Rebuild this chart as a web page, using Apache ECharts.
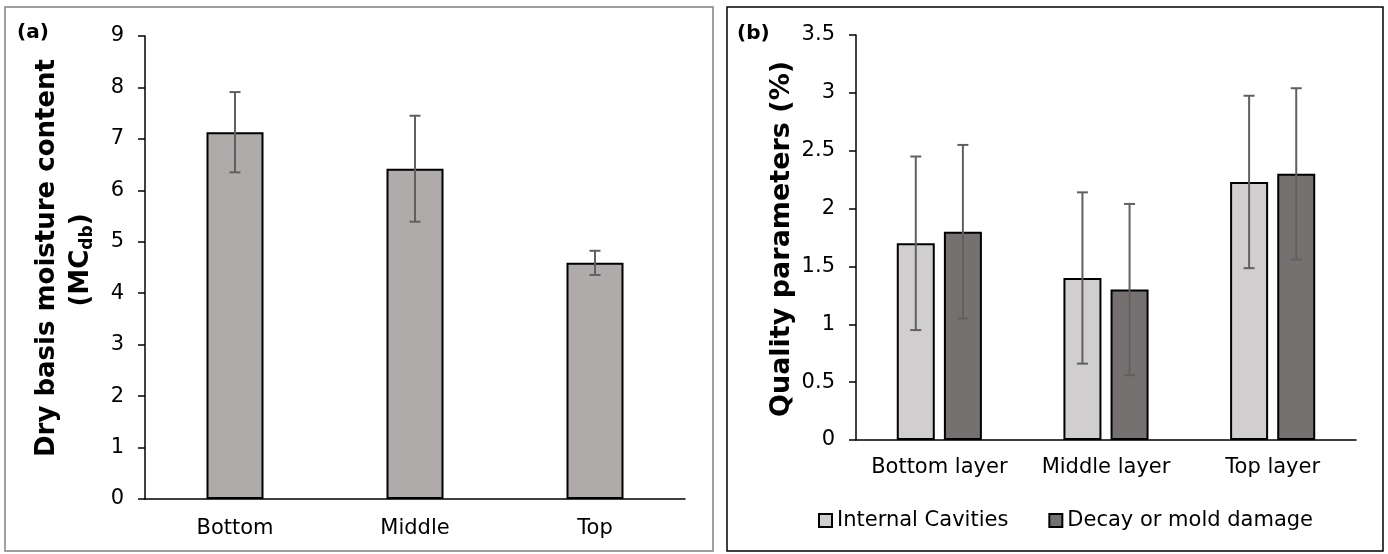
<!DOCTYPE html>
<html>
<head>
<meta charset="utf-8">
<script src="https://cdn.jsdelivr.net/npm/echarts@6/dist/echarts.min.js"></script>
<style>
  html, body { margin: 0; padding: 0; background: #ffffff; }
  #chart { width: 1388px; height: 554px; }
</style>
</head>
<body>
<div id="chart"></div>
<script>
// ---- Panel (a) data ----
const catsA = ['Bottom', 'Middle', 'Top'];
const moisture = [7.13, 6.42, 4.59];
const moistureErr = [0.78, 1.03, 0.235];
const ticksA = { min: 0, max: 9, interval: 1 };

// ---- Panel (b) data ----
const catsB = ['Bottom layer', 'Middle layer', 'Top layer'];
const cavities = [1.70, 1.40, 2.23];
const cavitiesErr = [0.75, 0.74, 0.745];
const decay = [1.80, 1.30, 2.30];
const decayErr = [0.75, 0.74, 0.74];
const ticksB = { min: 0, max: 3.5, interval: 0.5 };
const seriesNamesB = ['Internal Cavities', 'Decay or mold damage'];

const FONT = 'DejaVu Sans';
const errColor = '#606060';

function errData(vals, errs) {
  return vals.map((v, i) => [i, v - errs[i], v + errs[i]]);
}

function errRenderer(offset) {
  return function (params, api) {
    const i = api.value(0);
    const lo = api.coord([i, api.value(1)]);
    const hi = api.coord([i, api.value(2)]);
    const x = lo[0] + offset;
    const cap = 5.5;
    const st = { stroke: errColor, lineWidth: 2 };
    return {
      type: 'group',
      children: [
        { type: 'line', shape: { x1: x, y1: lo[1], x2: x, y2: hi[1] }, style: st },
        { type: 'line', shape: { x1: x - cap, y1: lo[1], x2: x + cap, y2: lo[1] }, style: st },
        { type: 'line', shape: { x1: x - cap, y1: hi[1], x2: x + cap, y2: hi[1] }, style: st }
      ]
    };
  };
}

const axisLine = { show: true, lineStyle: { color: '#000', width: 1.5 } };
const labelStyle = { color: '#000', fontFamily: FONT, fontSize: 21 };

const barWB = 38;
const gapB = 0.24;
const offB = barWB * (1 + gapB) / 2;

const option = {
  animation: false,
  backgroundColor: '#ffffff',
  grid: [
    { left: 145, top: 36, width: 540, height: 463, containLabel: false },
    { left: 856, top: 35, width: 500, height: 405, containLabel: false }
  ],
  xAxis: [
    {
      type: 'category', gridIndex: 0, data: catsA,
      axisLine: axisLine, axisTick: { show: false },
      axisLabel: Object.assign({ margin: 19, interval: 0 }, labelStyle)
    },
    {
      type: 'category', gridIndex: 1, data: catsB,
      axisLine: axisLine, axisTick: { show: false },
      axisLabel: Object.assign({ margin: 17, interval: 0 }, labelStyle)
    }
  ],
  yAxis: [
    {
      type: 'value', gridIndex: 0, min: ticksA.min, max: ticksA.max, interval: ticksA.interval,
      axisLine: axisLine, axisTick: { show: true, length: 7, lineStyle: { color: '#000', width: 1.5 } },
      splitLine: { show: false },
      axisLabel: Object.assign({ margin: 21 }, labelStyle)
    },
    {
      type: 'value', gridIndex: 1, min: ticksB.min, max: ticksB.max, interval: ticksB.interval,
      axisLine: axisLine, axisTick: { show: true, length: 7, lineStyle: { color: '#000', width: 1.5 } },
      splitLine: { show: false },
      axisLabel: Object.assign({ margin: 21 }, labelStyle)
    }
  ],
  legend: {
    data: seriesNamesB,
    left: 813, top: 505,
    icon: 'rect', itemWidth: 13, itemHeight: 13, itemGap: 40,
    textStyle: { color: '#000', fontFamily: FONT, fontSize: 21 }
  },
  graphic: [
    { type: 'rect', shape: { x: 5, y: 7, width: 708, height: 544 }, style: { fill: 'none', stroke: '#808080', lineWidth: 1.5 }, silent: true },
    { type: 'rect', shape: { x: 727, y: 7, width: 656, height: 544 }, style: { fill: 'none', stroke: '#000', lineWidth: 1.5 }, silent: true },
    { type: 'text', x: 17, y: 33, style: { text: '(a)', font: 'bold 20px ' + FONT, fill: '#000', align: 'left', verticalAlign: 'middle' } },
    { type: 'text', x: 737, y: 34, style: { text: '(b)', font: 'bold 20px ' + FONT, fill: '#000', align: 'left', verticalAlign: 'middle' } },
    { type: 'text', x: 47.5, y: 258, rotation: Math.PI / 2,
      style: { text: 'Dry basis moisture content', font: 'bold 26px ' + FONT, fill: '#000', align: 'center', verticalAlign: 'middle' } },
    { type: 'text', x: 81, y: 260, rotation: Math.PI / 2,
      style: {
        text: '{b|(MC}{s|db}{b|)}', align: 'center', verticalAlign: 'middle',
        rich: {
          b: { font: 'bold 26px ' + FONT, fill: '#000', lineHeight: 32, verticalAlign: 'middle' },
          s: { font: 'bold 17px ' + FONT, fill: '#000', padding: [14, 0, 0, 0], verticalAlign: 'top' }
        }
      } },
    { type: 'text', x: 782, y: 239, rotation: Math.PI / 2,
      style: { text: 'Quality parameters (%)', font: 'bold 27px ' + FONT, fill: '#000', align: 'center', verticalAlign: 'middle' } }
  ],
  series: [
    {
      type: 'bar', xAxisIndex: 0, yAxisIndex: 0, data: moisture, barWidth: 57,
      itemStyle: { color: '#AFABAB', borderColor: '#000', borderWidth: 2 }
    },
    {
      type: 'custom', xAxisIndex: 0, yAxisIndex: 0, z: 10,
      data: errData(moisture, moistureErr), encode: { x: 0, y: [1, 2] },
      renderItem: errRenderer(0)
    },
    {
      name: seriesNamesB[0], type: 'bar', xAxisIndex: 1, yAxisIndex: 1, data: cavities,
      barWidth: barWB, barGap: (gapB * 100) + '%',
      itemStyle: { color: '#D0CECE', borderColor: '#000', borderWidth: 2 }
    },
    {
      name: seriesNamesB[1], type: 'bar', xAxisIndex: 1, yAxisIndex: 1, data: decay,
      barWidth: barWB, barGap: (gapB * 100) + '%',
      itemStyle: { color: '#767171', borderColor: '#000', borderWidth: 2 }
    },
    {
      type: 'custom', xAxisIndex: 1, yAxisIndex: 1, z: 10,
      data: errData(cavities, cavitiesErr), encode: { x: 0, y: [1, 2] },
      renderItem: errRenderer(-offB)
    },
    {
      type: 'custom', xAxisIndex: 1, yAxisIndex: 1, z: 10,
      data: errData(decay, decayErr), encode: { x: 0, y: [1, 2] },
      renderItem: errRenderer(offB)
    }
  ]
};

const chart = echarts.init(document.getElementById('chart'), null, { renderer: 'canvas' });
chart.setOption(option);
</script>
</body>
</html>
